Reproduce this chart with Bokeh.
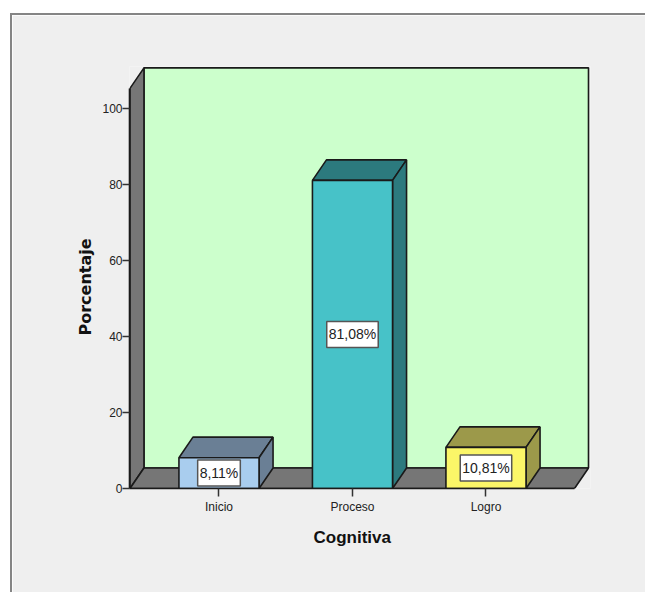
from bokeh.plotting import figure
from bokeh.models import FixedTicker, Label, Range1d, Title
from bokeh.embed import file_html
from bokeh.resources import INLINE

categories = ["Inicio", "Proceso", "Logro"]
positions = [1, 2, 3]
percent = [8.11, 81.08, 10.81]
percent_labels = ["8,11%", "81,08%", "10,81%"]
y_ticks = [0, 20, 40, 60, 80, 100]

front_colors = ["#a9cdee", "#47c2c8", "#fbf668"]
side_colors = ["#6a7f95", "#2c7a7e", "#9c994a"]

PANEL = "#efefef"
WALL = "#767676"
GREEN = "#ccffcc"
EDGE = "#1a1a1a"

half = 0.30          # half bar width, in category units
dx = 0.105           # 3D depth, category units
dy = 5.4             # 3D depth, value units
x_lo, x_hi = 1 - 0.667, 3 + 0.663
y_top = 105.3

p = figure(width=635, height=579, output_backend="svg", toolbar_location=None,
           x_range=Range1d(0.3296, 3.783), y_range=Range1d(0, 111.05),
           min_border_left=117, min_border_right=57, min_border_top=51, min_border_bottom=106,
           background_fill_color=PANEL, border_fill_color=PANEL, outline_line_color=None,
           margin=(13, 0, 0, 10),
           styles={"border-top": "2px solid #858585", "border-left": "2px solid #858585"})
p.grid.visible = False

# back wall, side wall, floor
p.patch([x_lo + dx, x_hi + dx, x_hi + dx, x_lo + dx], [dy, dy, y_top + dy, y_top + dy],
        fill_color=GREEN, line_color=EDGE, line_width=1.6)
p.patch([x_lo, x_lo + dx, x_lo + dx, x_lo], [0, dy, y_top + dy, y_top],
        fill_color=WALL, line_color=EDGE, line_width=1.6)
p.patch([x_lo, x_hi, x_hi + dx, x_lo + dx], [0, 0, dy, dy],
        fill_color=WALL, line_color=EDGE, line_width=1.6)

for c, v, fc, sc, t in zip(positions, percent, front_colors, side_colors, percent_labels):
    l, r = c - half, c + half
    p.patch([l, l + dx, r + dx, r], [v, v + dy, v + dy, v], fill_color=sc, line_color=EDGE, line_width=1.6)
    p.patch([r, r + dx, r + dx, r], [0, dy, v + dy, v], fill_color=sc, line_color=EDGE, line_width=1.6)
    p.patch([l, r, r, l], [0, 0, v, v], fill_color=fc, line_color=EDGE, line_width=1.6)
    p.add_layout(Label(x=c, y=v / 2, text=t, text_align="center", text_baseline="middle",
                       text_font="Liberation Sans", text_font_size="14px", text_color="#222222",
                       background_fill_color="white", border_line_color="#555555", border_line_width=1.5,
                       padding=(2, 5)))

p.xaxis.ticker = FixedTicker(ticks=positions)
p.xaxis.major_label_overrides = dict(zip(positions, categories))
p.xaxis.bounds = (x_lo, x_hi)
p.yaxis.ticker = FixedTicker(ticks=y_ticks)
p.yaxis.bounds = (0, y_top)
for ax in (p.xaxis[0], p.yaxis[0]):
    ax.axis_line_color = EDGE
    ax.axis_line_width = 1.6
    ax.major_tick_line_color = "#333333"
    ax.major_tick_line_width = 1.5
    ax.major_tick_in = 0
    ax.minor_tick_line_color = None
    ax.major_label_text_font = "Liberation Sans"
    ax.major_label_text_font_size = "12px"
    ax.major_label_text_color = "#222222"
p.xaxis.major_tick_out = 8
p.xaxis.major_label_standoff = 3
p.yaxis.major_tick_out = 7
p.yaxis.major_label_standoff = 0
p.yaxis.major_label_orientation = "horizontal"

p.add_layout(Title(text="Cognitiva", align="left", offset=184, standoff=18,
                   text_font="Liberation Sans", text_font_style="bold", text_font_size="17px",
                   text_color="#111111"), "below")
p.add_layout(Title(text="Porcentaje", align="left", offset=153, standoff=10,
                   text_font="DejaVu Sans", text_font_style="bold", text_font_size="16px",
                   text_color="#111111"), "left")

open("out.html", "w").write(file_html(p, INLINE))
